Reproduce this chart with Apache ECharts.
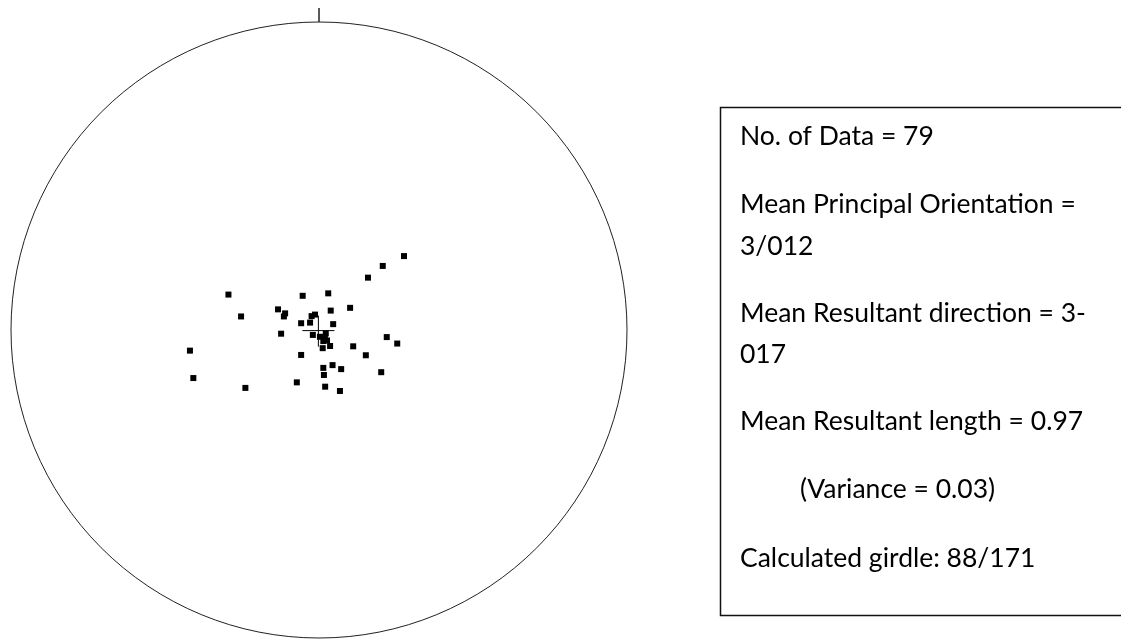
<!DOCTYPE html>
<html>
<head>
<meta charset="utf-8">
<title>Stereonet</title>
<script src="https://cdn.jsdelivr.net/npm/echarts@6/dist/echarts.min.js"></script>
<style>
	html, body { margin: 0; padding: 0; background: #fff; }
	#chart { width: 1121px; height: 642px; }
</style>
</head>
<body>
<div id="chart"></div>
<script>
	// projected pole positions inside the unit circle (x east, y north)
	var poleX = [0.276, 0.207, 0.159, -0.294, -0.053, 0.030, -0.253, -0.133, -0.110, -0.114,
		0.038, 0.101, -0.058, -0.029, -0.024, -0.013, 0.046, -0.123, -0.020, 0.003,
		0.022, 0.019, 0.012, 0.036, -0.419, 0.111, 0.220, 0.254, 0.152, -0.058,
		-0.408, 0.014, 0.044, 0.072, 0.016, 0.202, -0.072, -0.239, 0.020, 0.068,
		0.018, 0.026, 0.014]
	var poleY = [0.240, 0.208, 0.170, 0.115, 0.111, 0.119, 0.044, 0.067, 0.054, 0.044,
		0.063, 0.072, 0.022, 0.024, 0.045, 0.050, 0.019, -0.012, -0.016, -0.022,
		-0.011, -0.030, -0.059, -0.052, -0.067, -0.053, -0.023, -0.044, -0.082, -0.081,
		-0.156, -0.123, -0.114, -0.127, -0.146, -0.137, -0.170, -0.188, -0.184, -0.198,
		-0.023, -0.034, -0.036]
	var meanPos = [-0.002, -0.002]

	var statLines = [
		'No. of Data = 79',
		'Mean Principal Orientation =',
		'3/012',
		'Mean Resultant direction = 3-',
		'017',
		'Mean Resultant length = 0.97',
		'     (Variance = 0.03)',
		'Calculated girdle: 88/171'
	]
	var statMid = [136, 204, 246, 313, 354, 421, 489, 558]

	var chart = echarts.init(document.getElementById('chart'))

	var poles = poleX.map(function (x, i) {
		return [x, poleY[i]]
	})

	var statTexts = statLines.map(function (t, i) {
		return {
			type: 'text',
			x: t.indexOf('(') > 0 ? 800 : 740,
			y: statMid[i],
			style: {
				text: t.trim(),
				fill: '#000',
				font: '26.5px Lato',
				verticalAlign: 'middle'
			}
		}
	})

	chart.setOption({
		backgroundColor: '#fff',
		animation: false,
		polar: {
			center: [319, 330],
			radius: 308
		},
		angleAxis: {
			type: 'value',
			min: 0,
			max: 360,
			interval: 360,
			startAngle: 90,
			axisLine: {
				lineStyle: { color: '#222', width: 1 }
			},
			axisTick: {
				show: true,
				length: 14,
				lineStyle: { color: '#222', width: 1.5 }
			},
			axisLabel: { show: false },
			splitLine: { show: false }
		},
		radiusAxis: {
			min: 0,
			max: 1,
			show: false
		},
		grid: {
			left: 11,
			top: 22,
			width: 616,
			height: 616
		},
		xAxis: {
			type: 'value',
			min: -1,
			max: 1,
			show: false
		},
		yAxis: {
			type: 'value',
			min: -1,
			max: 1,
			show: false
		},
		series: [{
			type: 'scatter',
			symbol: 'rect',
			symbolSize: 6,
			itemStyle: { color: '#000', opacity: 1 },
			data: poles
		}, {
			type: 'custom',
			data: [meanPos],
			renderItem: function (params, api) {
				var p = api.coord([api.value(0), api.value(1)])
				return {
					type: 'group',
					children: [{
						type: 'line',
						shape: { x1: p[0] - 16, y1: p[1], x2: p[0] + 16, y2: p[1] },
						style: { stroke: '#000', lineWidth: 1 }
					}, {
						type: 'line',
						shape: { x1: p[0], y1: p[1] - 15, x2: p[0], y2: p[1] + 16 },
						style: { stroke: '#000', lineWidth: 1 }
					}]
				}
			}
		}],
		graphic: [{
			type: 'rect',
			left: 718,
			top: 105,
			shape: { width: 440, height: 508 },
			style: { fill: 'none', stroke: '#111', lineWidth: 1.5 }
		}].concat(statTexts)
	})
</script>
</body>
</html>
